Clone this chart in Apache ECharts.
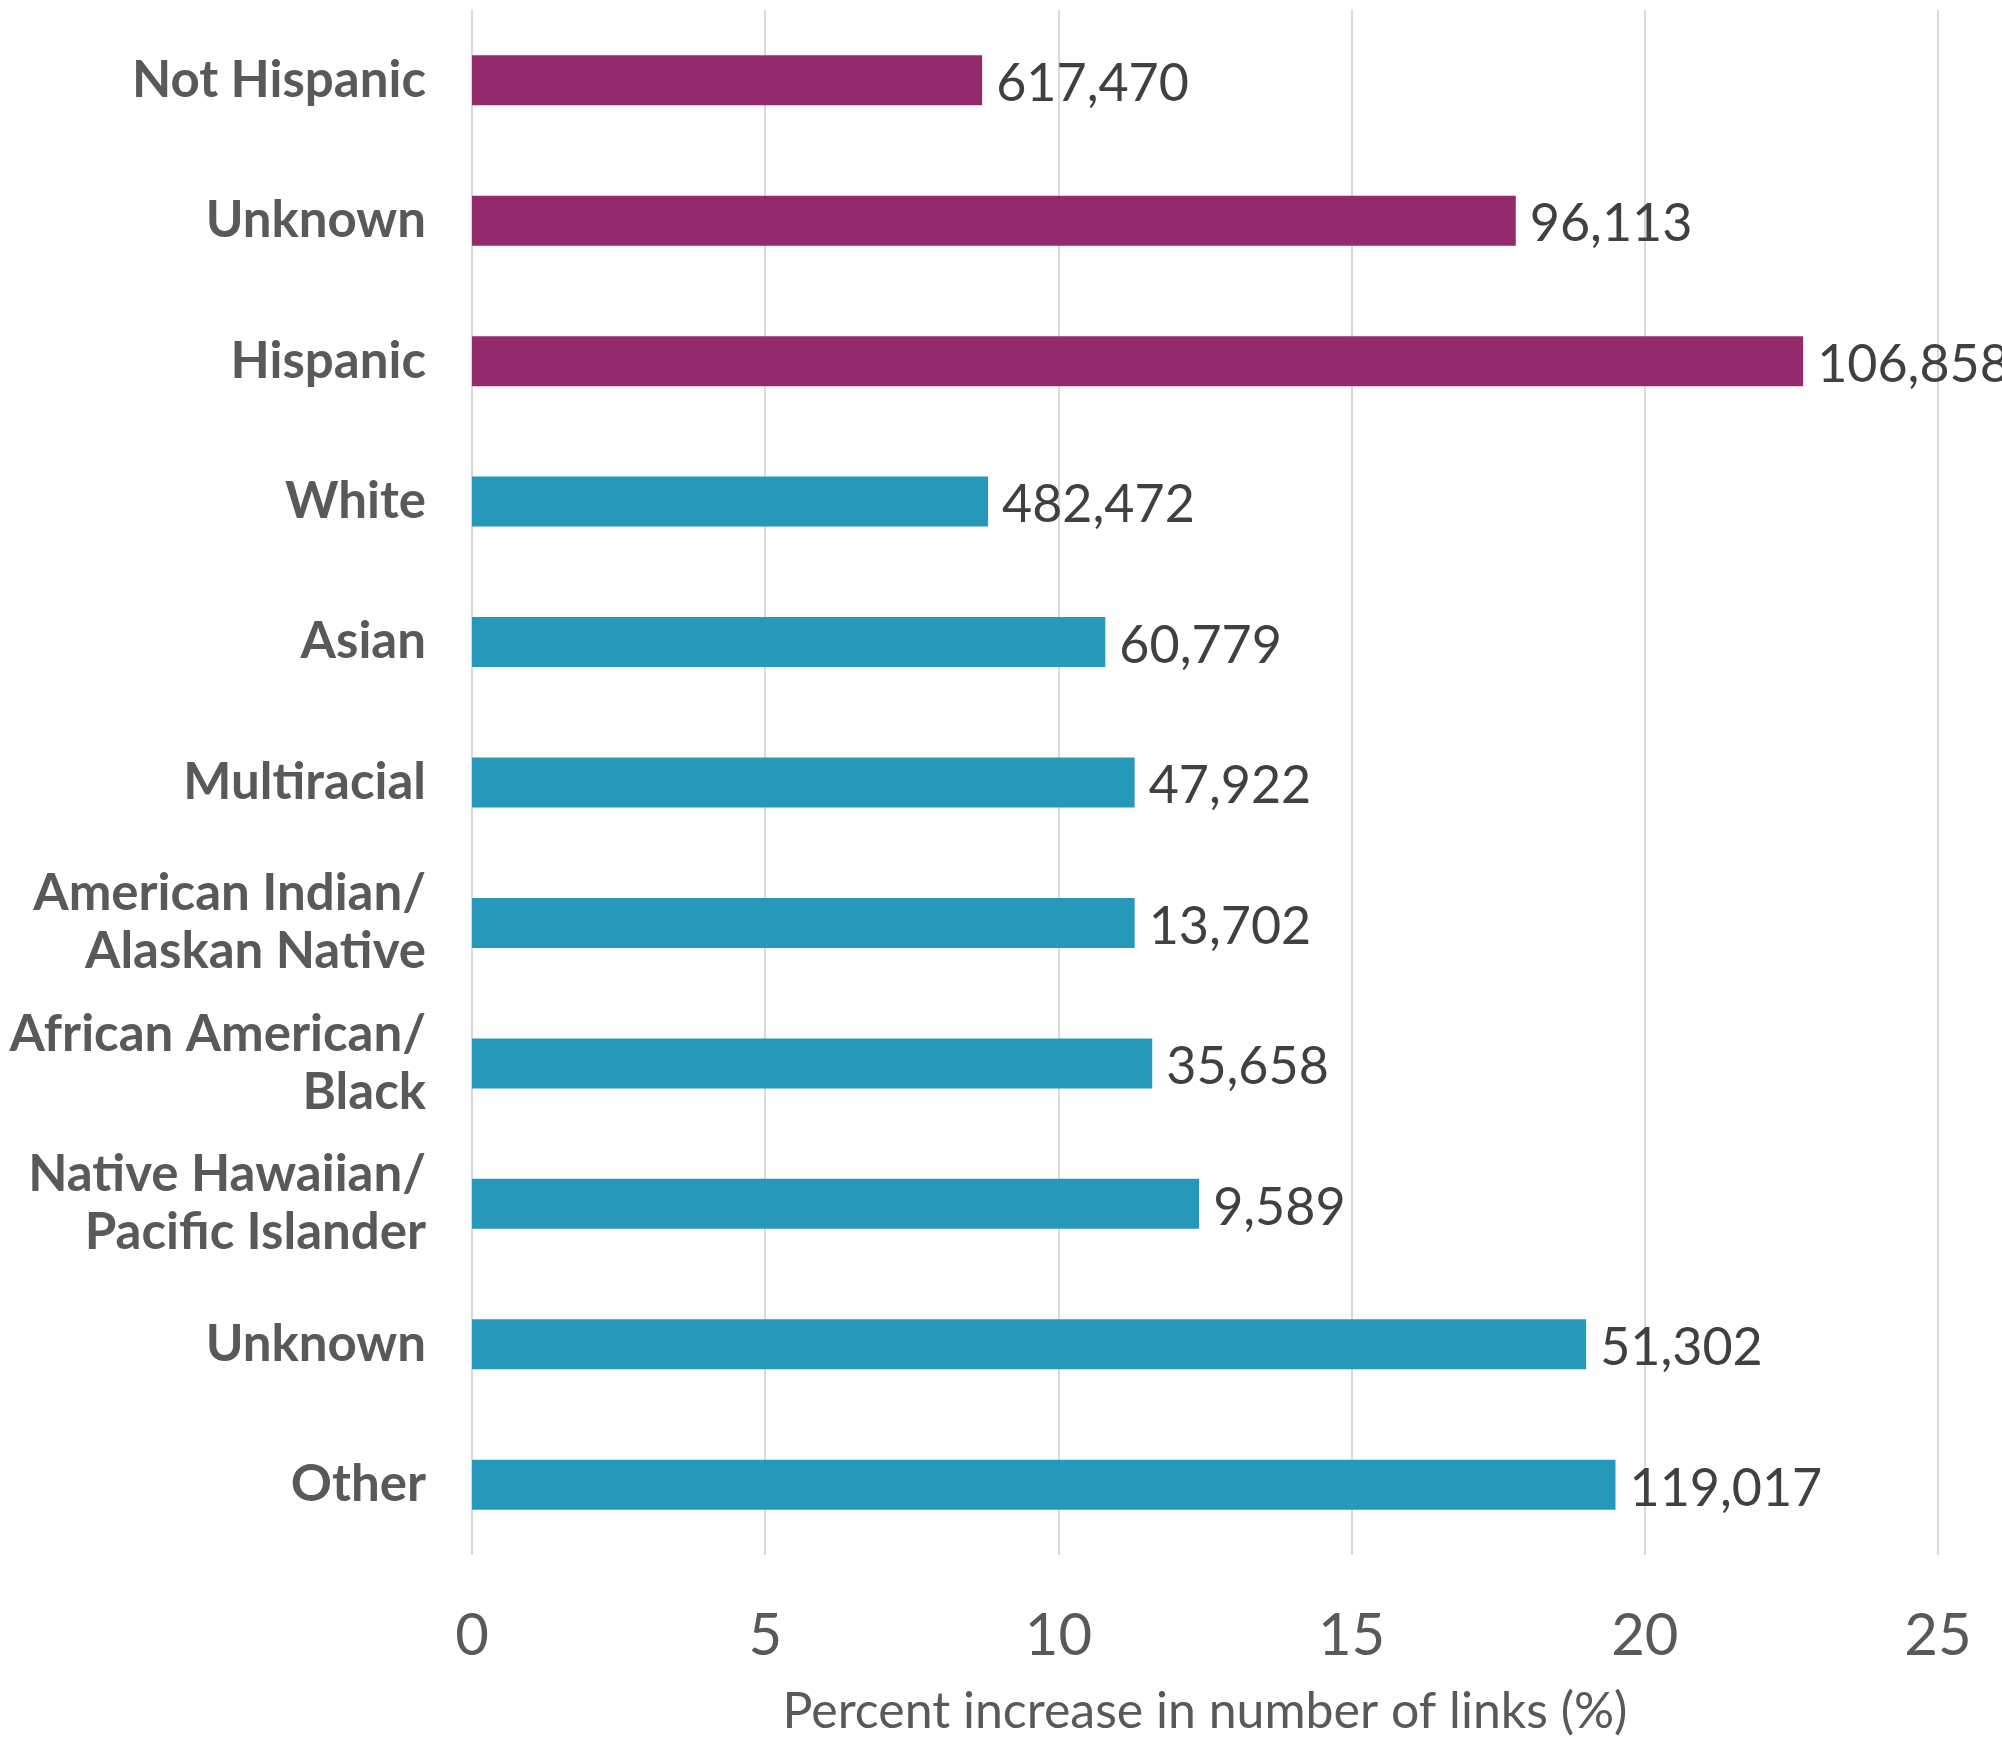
<!DOCTYPE html>
<html>
<head>
<meta charset="utf-8">
<script src="https://cdn.jsdelivr.net/npm/echarts@6/dist/echarts.min.js"></script>
<style>
html,body{margin:0;padding:0;background:#fff;}
#chart{width:2002px;height:1742px;}
</style>
</head>
<body>
<div id="chart"></div>
<script>
// Categories from top to bottom
const categories = [
  'Not Hispanic',
  'Unknown',
  'Hispanic',
  'White',
  'Asian',
  'Multiracial',
  'American Indian/\nAlaskan Native',
  'African American/\nBlack',
  'Native Hawaiian/\nPacific Islander',
  'Unknown ',
  'Other'
];
// Group: 0 = ethnicity, 1 = race
const groups = [0, 0, 0, 1, 1, 1, 1, 1, 1, 1, 1];
// Percent increase in number of links (%)
const percentIncrease = [8.7, 17.8, 22.7, 8.8, 10.8, 11.3, 11.3, 11.6, 12.4, 19.0, 19.5];
// Number of links (bar labels)
const linkCounts = ['617,470', '96,113', '106,858', '482,472', '60,779', '47,922', '13,702', '35,658', '9,589', '51,302', '119,017'];
const xTicks = [0, 5, 10, 15, 20, 25];
const axisTitle = 'Percent increase in number of links (%)';

const groupColors = ['#922A6B', '#2698BA'];
const font = 'Lato, "Open Sans", sans-serif';

const chart = echarts.init(document.getElementById('chart'), null, {renderer: 'canvas'});
chart.setOption({
  backgroundColor: '#ffffff',
  animation: false,
  grid: {left: 472, right: 64, top: 10, bottom: 186, containLabel: false},
  xAxis: {
    type: 'value',
    min: xTicks[0],
    max: xTicks[xTicks.length - 1],
    interval: xTicks[1] - xTicks[0],
    axisLine: {show: false},
    axisTick: {show: false},
    splitLine: {show: true, lineStyle: {color: '#D9D9D9', width: 2}},
    axisLabel: {fontFamily: font, fontSize: 58, color: '#595959', margin: 52},
    name: axisTitle,
    nameLocation: 'middle',
    nameGap: 132,
    nameTextStyle: {fontFamily: font, fontSize: 50, color: '#595959', verticalAlign: 'top'}
  },
  yAxis: {
    type: 'category',
    inverse: true,
    data: categories,
    axisLine: {show: false},
    axisTick: {show: false},
    splitLine: {show: false},
    axisLabel: {
      fontFamily: font, fontSize: 51, fontWeight: 'bold', color: '#595959',
      lineHeight: 58, margin: 46, align: 'right',
      formatter: v => v.trim()
    }
  },
  series: [{
    type: 'bar',
    barWidth: 50,
    data: percentIncrease.map((v, i) => ({value: v, itemStyle: {color: groupColors[groups[i]]}})),
    label: {
      show: true,
      position: 'right',
      distance: 14,
      fontFamily: font,
      fontSize: 52,
      color: '#404040',
      offset: [0, 4],
      formatter: p => linkCounts[p.dataIndex]
    }
  }]
});
</script>
</body>
</html>
